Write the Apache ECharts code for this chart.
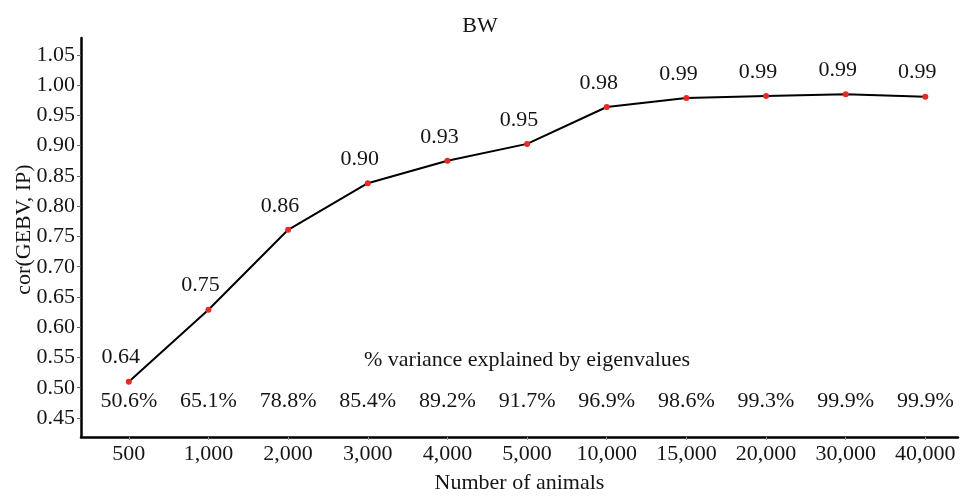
<!DOCTYPE html>
<html>
<head>
<meta charset="utf-8">
<script src="https://cdn.jsdelivr.net/npm/echarts@6/dist/echarts.min.js"></script>
<style>html,body{margin:0;padding:0;background:#fff}#c{width:960px;height:497px}</style>
</head>
<body>
<div id="c"></div>
<script>
var categories = ['500','1,000','2,000','3,000','4,000','5,000','10,000','15,000','20,000','30,000','40,000'];
var corValues = [0.510, 0.629, 0.761, 0.838, 0.875, 0.903, 0.964, 0.979, 0.982, 0.985, 0.981];
var pointLabels = ['0.64','0.75','0.86','0.90','0.93','0.95','0.98','0.99','0.99','0.99','0.99'];
var varianceLabels = ['50.6%','65.1%','78.8%','85.4%','89.2%','91.7%','96.9%','98.6%','99.3%','99.9%','99.9%'];
var yTicks = [0.45,0.50,0.55,0.60,0.65,0.70,0.75,0.80,0.85,0.90,0.95,1.00,1.05];
var varianceRowY = 0.477;
var varianceTitle = '% variance explained by eigenvalues';
var varianceTitleY = 0.546;
var varianceTitleX = 5;

var FONT = '"Liberation Serif", "Times New Roman", serif';
var TXT = '#151515';
var idx = categories.map(function(c, i){ return i; });

var chart = echarts.init(document.getElementById('c'));
chart.setOption({
  animation: false,
  title: {
    text: 'BW', left: 'center', top: 10,
    textStyle: { fontFamily: FONT, fontSize: 22, fontWeight: 'normal', color: TXT }
  },
  grid: { left: 81, right: 2, top: 38, bottom: 60, containLabel: false, outerBoundsMode: 'none' },
  xAxis: {
    type: 'value', min: -0.6, max: 10.41,
    name: 'Number of animals', nameLocation: 'middle', nameGap: 35, nameMoveOverlap: false,
    nameTextStyle: { fontFamily: FONT, fontSize: 22, color: TXT },
    axisLine: { show: true, onZero: false, lineStyle: { color: '#000', width: 2.5 } },
    axisTick: { show: true, customValues: idx, length: 3, lineStyle: { color: '#999' } },
    axisLabel: {
      customValues: idx, margin: 6,
      fontFamily: FONT, fontSize: 22, color: TXT,
      formatter: function(v){ return categories[Math.round(v)]; }
    },
    splitLine: { show: false }
  },
  yAxis: {
    type: 'value', min: 0.4186, max: 1.078,
    name: 'cor(GEBV, IP)', nameLocation: 'middle', nameGap: 46, nameMoveOverlap: false,
    nameTextStyle: { fontFamily: FONT, fontSize: 22, color: TXT, padding: [0, 0, 0, 16] },
    axisLine: { show: true, onZero: false, lineStyle: { color: '#000', width: 2.5 } },
    axisTick: { show: true, customValues: yTicks, length: 4, lineStyle: { color: '#666' } },
    axisLabel: {
      customValues: yTicks, margin: 6,
      fontFamily: FONT, fontSize: 22, color: TXT,
      formatter: function(v){ return v.toFixed(2); }
    },
    splitLine: { show: false }
  },
  series: [
    {
      type: 'line',
      data: corValues.map(function(v, i){ return [i, v]; }),
      lineStyle: { color: '#000', width: 2 },
      symbol: 'circle', symbolSize: 6,
      itemStyle: { color: '#e82a22' },
      z: 3,
      label: {
        show: true, position: 'top', distance: 10, offset: [-8, 0],
        fontFamily: FONT, fontSize: 22, color: TXT, lineHeight: 22,
        formatter: function(p){ return pointLabels[p.dataIndex]; }
      }
    },
    {
      type: 'scatter', symbolSize: 0, silent: true,
      itemStyle: { opacity: 1 },
      data: varianceLabels.map(function(t, i){ return [i, varianceRowY]; }),
      label: {
        show: true, position: 'inside',
        fontFamily: FONT, fontSize: 22, color: TXT, opacity: 1,
        formatter: function(p){ return varianceLabels[p.dataIndex]; }
      }
    },
    {
      type: 'scatter', symbolSize: 0, silent: true,
      itemStyle: { opacity: 1 },
      data: [[varianceTitleX, varianceTitleY]],
      label: {
        show: true, position: 'inside',
        fontFamily: FONT, fontSize: 22, color: TXT, opacity: 1,
        formatter: function(){ return varianceTitle; }
      }
    }
  ]
});
</script>
</body>
</html>
